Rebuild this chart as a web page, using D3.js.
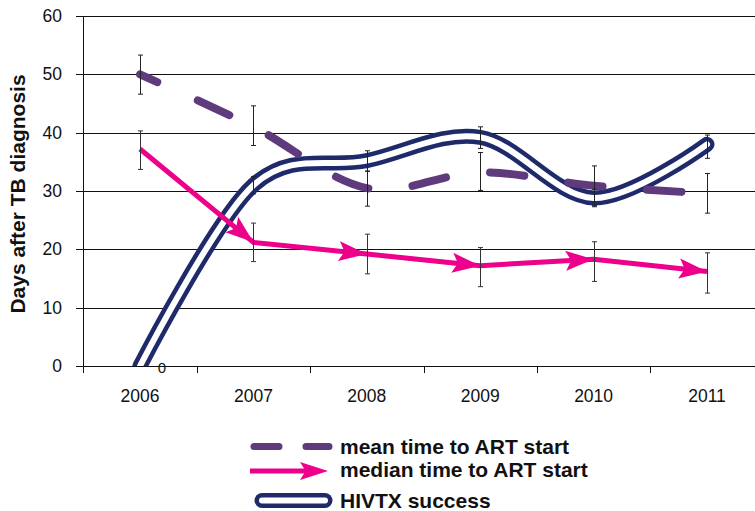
<!DOCTYPE html>
<html>
<head>
<meta charset="utf-8">
<script src="https://cdn.jsdelivr.net/npm/d3@7/dist/d3.min.js"></script>
<style>
  html, body { margin: 0; padding: 0; background: #fff; }
  svg { display: block; font-family: "Liberation Sans", Arial, sans-serif; }
</style>
</head>
<body>
<svg id="chart" width="755" height="511"></svg>
<script>
// ---- data ----
const years = ["2006", "2007", "2008", "2009", "2010", "2011"];
const yTicks = [0, 10, 20, 30, 40, 50, 60];

const meanValues = [50, 41, 30.5, 33.2, 30.9, 29.6];
const meanLow    = [46.6, 37.8, 27.4, 30.1, 27.5, 26.2];
const meanHigh   = [53.3, 44.6, 33.4, 36.6, 34.3, 33.0];

const medianValues = [37.2, 21.2, 19.2, 17.2, 18.3, 16.2];
const medianLow    = [33.7, 17.9, 15.8, 13.6, 14.5, 12.5];
const medianHigh   = [40.3, 24.5, 22.6, 20.3, 21.3, 19.4];

const hivtxValues = [0, 31, 35.2, 39.2, 28.8, 38];
const hivtxLow    = [0, 29.5, 33.4, 37.3, 27.3, 35.6];
const hivtxHigh   = [0, 32.5, 36.9, 41.0, 30.3, 39.6];

const seriesNames = ["mean time to ART start", "median time to ART start", "HIVTX success"];
const yTitle = "Days after TB diagnosis";

// ---- styles ----
const purple = "#5f3b7d", pink = "#ec008c", navy = "#1f2a6b";

const svg = d3.select("#chart");
svg.append("rect").attr("width", 755).attr("height", 511).attr("fill", "#fff");

const x = d3.scaleBand().domain(years).range([83.3, 763.7]).paddingInner(0).paddingOuter(0);
const y = d3.scaleLinear().domain([0, 60]).range([366, 16]);
const cx = d => x(d) + x.bandwidth() / 2;

svg.append("defs").append("clipPath").attr("id", "plotClip")
  .append("rect").attr("x", 83).attr("y", 0).attr("width", 700).attr("height", y(0));

// gridlines
svg.append("g").selectAll("line").data(yTicks).join("line")
  .attr("x1", 76).attr("x2", 769)
  .attr("y1", d => Math.round(y(d)) + 0.5).attr("y2", d => Math.round(y(d)) + 0.5)
  .attr("stroke", "#111").attr("stroke-width", 1);

// y axis line
svg.append("line").attr("x1", 83.5).attr("x2", 83.5).attr("y1", y(60)).attr("y2", 373)
  .attr("stroke", "#111").attr("stroke-width", 1);

// x boundary ticks
const bounds = years.map(d => x(d)).concat([x(years[years.length - 1]) + x.bandwidth()]);
svg.append("g").selectAll("line").data(bounds.slice(1)).join("line")
  .attr("x1", d => Math.round(d) + 0.5).attr("x2", d => Math.round(d) + 0.5)
  .attr("y1", 366).attr("y2", 373).attr("stroke", "#111");

// y axis labels
const yAxis = svg.append("g").attr("transform", "translate(83,0)")
  .call(d3.axisLeft(y).tickValues(yTicks).tickSize(0).tickPadding(21).tickFormat(d3.format("d")));
yAxis.select(".domain").remove();
yAxis.selectAll("text").attr("font-size", "17.5px").attr("fill", "#111")
  .attr("font-family", "Liberation Sans, Arial, sans-serif");

// x axis labels
const xAxis = svg.append("g").attr("transform", "translate(0,366)")
  .call(d3.axisBottom(x).tickSize(0).tickPadding(24));
xAxis.select(".domain").remove();
xAxis.selectAll("text").attr("font-size", "17.5px").attr("fill", "#111")
  .attr("font-family", "Liberation Sans, Arial, sans-serif");

// y title
svg.append("text").attr("transform", "translate(25,194) rotate(-90)")
  .attr("text-anchor", "middle").attr("font-size", "21px").attr("font-weight", "bold")
  .attr("fill", "#111").text(yTitle);

// ---- HIVTX double line ----
const smooth = d3.line().x((d, i) => cx(years[i])).y(d => y(d)).curve(d3.curveCatmullRom.alpha(0));
const hg = svg.append("g").attr("clip-path", "url(#plotClip)");
hg.append("path").attr("d", smooth(hivtxValues)).attr("fill", "none")
  .attr("stroke", navy).attr("stroke-width", 15).attr("stroke-linecap", "round").attr("stroke-linejoin", "round");
hg.append("path").attr("d", smooth(hivtxValues)).attr("fill", "none")
  .attr("stroke", "#fff").attr("stroke-width", 6).attr("stroke-linecap", "round").attr("stroke-linejoin", "round");

// ---- mean dashed line ----
svg.append("path").attr("d", smooth(meanValues)).attr("fill", "none")
  .attr("stroke", purple).attr("stroke-width", 8).attr("stroke-linecap", "round")
  .attr("stroke-dasharray", "34.5 44.5").attr("stroke-dashoffset", 15.5);

// ---- median line with arrows ----
const straight = d3.line().x((d, i) => cx(years[i])).y(d => y(d));
svg.append("path").attr("d", straight(medianValues)).attr("fill", "none")
  .attr("stroke", pink).attr("stroke-width", 5).attr("stroke-linejoin", "round");

function arrowHead(g, x0, y0, x1, y1, L, W, color) {
  const a = Math.atan2(y1 - y0, x1 - x0);
  const pts = [[0, 0], [-L, -W / 2], [-L * 0.8, 0], [-L, W / 2]].map(([px, py]) => [
    x1 + px * Math.cos(a) - py * Math.sin(a),
    y1 + px * Math.sin(a) + py * Math.cos(a)
  ]);
  g.append("polygon").attr("points", pts.map(p => p.join(",")).join(" ")).attr("fill", color);
}
const arrows = svg.append("g");
for (let i = 1; i < medianValues.length; i++) {
  arrowHead(arrows, cx(years[i - 1]), y(medianValues[i - 1]), cx(years[i]), y(medianValues[i]), 28, 20, pink);
}

// ---- error bars ----
function errorBars(low, high, color) {
  const g = svg.append("g").attr("stroke", color).attr("stroke-width", 1);
  years.forEach((yr, i) => {
    if (high[i] === low[i]) return;
    const xx = Math.round(cx(yr)) + 0.5;
    g.append("line").attr("x1", xx).attr("x2", xx).attr("y1", y(high[i])).attr("y2", y(low[i]));
    [high[i], low[i]].forEach(v => {
      g.append("line").attr("x1", xx - 2.5).attr("x2", xx + 2.5).attr("y1", y(v)).attr("y2", y(v));
    });
  });
}
errorBars(hivtxLow, hivtxHigh, "#222");
errorBars(meanLow, meanHigh, "#222");
errorBars(medianLow, medianHigh, "#333");

// data label "0"
svg.append("text").attr("x", cx(years[0]) + 22).attr("y", y(hivtxValues[0]) + 6.5)
  .attr("text-anchor", "middle").attr("font-size", "15px").attr("fill", "#111").text(d3.format("d")(hivtxValues[0]));

// ---- legend ----
const leg = svg.append("g");
leg.append("line").attr("x1", 254).attr("x2", 329).attr("y1", 446.5).attr("y2", 446.5)
  .attr("stroke", purple).attr("stroke-width", 7).attr("stroke-linecap", "round").attr("stroke-dasharray", "25 27");
leg.append("line").attr("x1", 250).attr("x2", 312).attr("y1", 471).attr("y2", 471)
  .attr("stroke", pink).attr("stroke-width", 5);
arrowHead(leg, 250, 471, 328, 471, 28, 18, pink);
leg.append("line").attr("x1", 262).attr("x2", 325).attr("y1", 500.5).attr("y2", 500.5)
  .attr("stroke", navy).attr("stroke-width", 15).attr("stroke-linecap", "round");
leg.append("line").attr("x1", 262).attr("x2", 325).attr("y1", 500.5).attr("y2", 500.5)
  .attr("stroke", "#fff").attr("stroke-width", 6).attr("stroke-linecap", "round");
const legY = [454, 477, 508];
seriesNames.forEach((n, i) => {
  leg.append("text").attr("x", 340).attr("y", legY[i]).attr("font-size", "21px")
    .attr("font-weight", "bold").attr("fill", "#111").text(n);
});
</script>
</body>
</html>
